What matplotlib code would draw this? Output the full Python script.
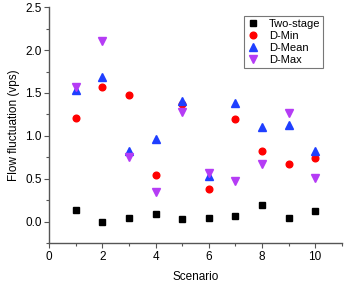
import matplotlib.pyplot as plt
import numpy as np
from matplotlib.ticker import MultipleLocator

plt.rcParams['font.family'] = ['Liberation Sans', 'DejaVu Sans']

scenario = [1, 2, 3, 4, 5, 6, 7, 8, 9, 10]
two_stage = [0.13, 0.00, 0.045, 0.083, 0.035, 0.04, 0.06, 0.19, 0.043, 0.125]
d_min = [1.21, 1.575, 1.475, 0.54, 1.37, 0.375, 1.195, 0.828, 0.67, 0.746]
d_mean = [1.536, 1.684, 0.82, 0.969, 1.408, 0.527, 1.387, 1.103, 1.13, 0.82]
d_max = [1.568, 2.11, 0.754, 0.348, 1.284, 0.566, 0.477, 0.672, 1.265, 0.504]

fig = plt.figure(figsize=(3.46, 2.83), dpi=100)
ax = fig.add_axes([0.1425, 0.1413, 0.845, 0.833])

ax.plot(scenario, two_stage, 's', color='black', ms=4.4, label='Two-stage')
ax.plot(scenario, d_min, 'o', color='#ff0000', ms=4.8, label='D-Min')
ax.plot(scenario, d_mean, '^', color='#1f3fff', ms=5.2, label='D-Mean')
ax.plot(scenario, d_max, 'v', color='#b53cf5', ms=5.2, label='D-Max')

ax.set_xlim(0, 11)
ax.set_ylim(-0.25, 2.5)
ax.xaxis.set_major_locator(MultipleLocator(2))
ax.xaxis.set_minor_locator(MultipleLocator(1))
ax.yaxis.set_major_locator(MultipleLocator(0.5))
ax.yaxis.set_minor_locator(MultipleLocator(0.25))
ax.yaxis.set_major_formatter(plt.FormatStrFormatter('%.1f'))

for s in ['top', 'right']:
    ax.spines[s].set_visible(False)
for s in ['left', 'bottom']:
    ax.spines[s].set_color('#555555')
    ax.spines[s].set_linewidth(1.0)

ax.tick_params(which='major', direction='out', length=3.5, width=0.8, colors='#555555',
               labelcolor='black', labelsize=8.5, pad=2)
ax.tick_params(which='minor', direction='out', length=2, width=0.8, colors='#555555')

ax.set_xlabel('Scenario', fontsize=8.5, labelpad=6)
ax.set_ylabel('Flow fluctuation (vps)', fontsize=8.5, labelpad=4)

leg = ax.legend(loc='upper right', bbox_to_anchor=(0.937, 0.964), borderaxespad=0,
                fontsize=8, frameon=True, fancybox=False, handletextpad=0.8,
                handlelength=1.2, borderpad=0.25, labelspacing=0.2)
leg.get_frame().set_edgecolor('#555555')
leg.get_frame().set_linewidth(0.8)

fig.savefig('out.png', dpi=100)
